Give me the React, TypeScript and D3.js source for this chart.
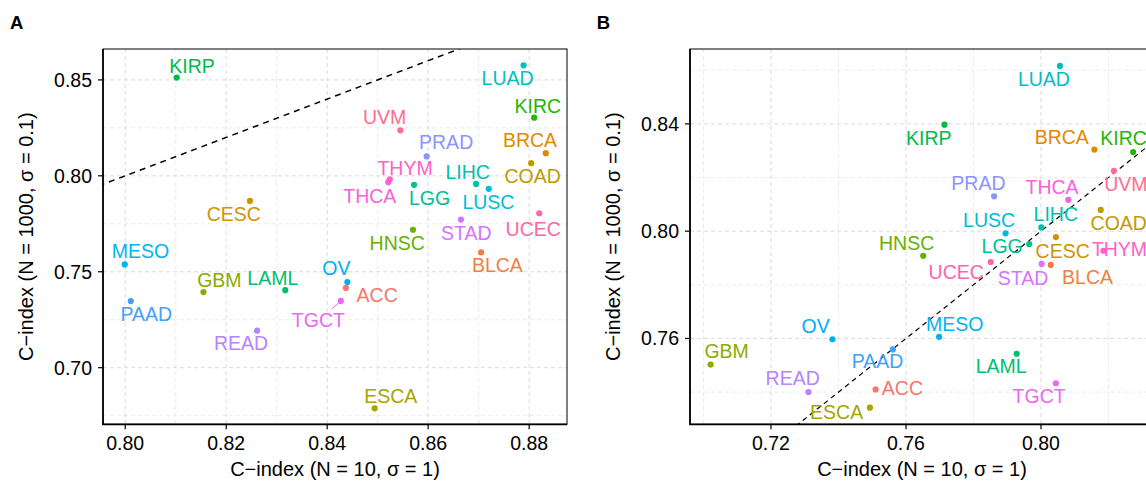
import React from 'react';
import * as d3 from 'd3';

// ---------- data ----------
const cancerTypes = ["ACC","BLCA","BRCA","CESC","COAD","ESCA","GBM","HNSC","KIRC","KIRP","LAML","LGG","LIHC","LUAD","LUSC","MESO","OV","PAAD","PRAD","READ","STAD","TGCT","THCA","THYM","UCEC","UVM"];

// Panel A
const aX = [0.8437,0.8705,0.8833,0.8247,0.8804,0.8494,0.8155,0.8570,0.8810,0.8102,0.8317,0.8572,0.8695,0.8789,0.8720,0.7999,0.8440,0.8011,0.8597,0.8261,0.8665,0.8427,0.8521,0.8524,0.8820,0.8545];
const aY = [0.7416,0.7601,0.8118,0.7869,0.8066,0.6788,0.7394,0.7719,0.8303,0.8512,0.7404,0.7953,0.7958,0.8576,0.7932,0.7538,0.7446,0.7347,0.8101,0.7193,0.7772,0.7348,0.7967,0.7982,0.7805,0.8237];
// Panel B
const bX = [0.7510,0.8029,0.8158,0.8044,0.8177,0.7493,0.7021,0.7651,0.8273,0.7714,0.7928,0.7965,0.8001,0.8056,0.7895,0.7698,0.7382,0.7561,0.7861,0.7311,0.8002,0.8044,0.8081,0.8185,0.7851,0.8216];
const bY = [0.7410,0.7874,0.8304,0.7978,0.8079,0.7342,0.7503,0.7908,0.8295,0.8397,0.7543,0.7952,0.8014,0.8616,0.7992,0.7606,0.7597,0.7559,0.8130,0.7400,0.7878,0.7433,0.8117,0.7927,0.7885,0.8225];

const aXTicks = [0.80,0.82,0.84,0.86,0.88];
const aXMinor = [0.81,0.83,0.85,0.87];
const aYTicks = [0.70,0.75,0.80,0.85];
const aYMinor = [0.675,0.725,0.775,0.825];
const bXTicks = [0.72,0.76,0.80,0.84];
const bXMinor = [0.70,0.74,0.78,0.82];
const bYTicks = [0.76,0.80,0.84];
const bYMinor = [0.74,0.78,0.82,0.86];

const xTitle = "C\u2212index (N = 10, \u03c3 = 1)";
const yTitle = "C\u2212index (N = 1000, \u03c3 = 0.1)";

// ---------- label layout (pixel offsets from point: centre x, baseline y) ----------
const aLabelOff: [number, number][] = [
  [31.3,13.7],[16.2,19.6],[-15.8,-6],[-16.2,20.4],[1.5,20.3],[16.1,-5.6],[15.9,-5.6],[-15.8,20],[3.7,-5],[15.4,-5],
  [-12.5,-5.3],[15.5,20.4],[-8.5,-5.3],[-16,20],[-0.3,19.7],[15.7,-6.4],[-11,-7.3],[15.5,19.7],[19.5,-7],[-16,19.3],
  [5.4,20],[-22.4,25.7],[-18.5,20.6],[15.3,-4],[-6,22.3],[-15.7,-6]
];
const bLabelOff: [number, number][] = [
  [26.8,5.7],[36.8,18.7],[-32.6,-5.7],[6.8,21],[18,19.7],[-33.3,11],[16,-6.7],[-16.6,-5.6],[-9.5,-6.6],[-15.6,20.3],
  [-15.5,19.7],[-27,9],[14.5,-6],[-16,20],[-16.5,-6],[15.7,-5.6],[-16.8,-6.4],[-15.2,18.3],[-15.7,-6],[-15.8,-6.7],
  [-18.7,20.7],[-16.7,20],[-16.3,-5.7],[16,5],[-34.5,17],[12,19.7]
];
const aSegments: { [k: string]: [number, number] } = { TGCT: [-9, 8] };
const bSegments: { [k: string]: [number, number] } = {};

// ---------- colours: ggplot2 hue_pal (polar LUV) ----------
function hclLuv(h: number, c: number, l: number): string {
  const hr = (h * Math.PI) / 180;
  const u = c * Math.cos(hr), v = c * Math.sin(hr);
  const Xn = 95.047, Yn = 100, Zn = 108.883;
  const Y = l > 8 ? Yn * Math.pow((l + 16) / 116, 3) : (Yn * l) / 903.3;
  const den = Xn + 15 * Yn + 3 * Zn;
  const un = (4 * Xn) / den, vn = (9 * Yn) / den;
  const up = u / (13 * l) + un, vp = v / (13 * l) + vn;
  const X = (Y * 9 * up) / (4 * vp);
  const Z = (Y * (12 - 3 * up - 20 * vp)) / (4 * vp);
  const x = X / 100, y = Y / 100, z = Z / 100;
  const lin = [
    3.2404542 * x - 1.5371385 * y - 0.4985314 * z,
    -0.969266 * x + 1.8760108 * y + 0.041556 * z,
    0.0556434 * x - 0.2040259 * y + 1.0572252 * z,
  ];
  const g = (t: number) => (t <= 0.0031308 ? 12.92 * t : 1.055 * Math.pow(t, 1 / 2.4) - 0.055);
  const [r, gg, b] = lin.map((t) => Math.round(Math.max(0, Math.min(1, g(t))) * 255));
  return d3.rgb(r, gg, b).formatHex();
}
const palette = cancerTypes.map((_, i) => hclLuv(15 + (360 * i) / cancerTypes.length, 100, 65));

const FONT = "'Liberation Sans', Arial, Helvetica, sans-serif";

type PanelProps = {
  id: string;
  letter: string;
  letterX: number;
  left: number; right: number; top: number; bottom: number;
  xDomain: [number, number]; yDomain: [number, number];
  xs: number[]; ys: number[];
  xTicks: number[]; yTicks: number[]; xMinor: number[]; yMinor: number[];
  offsets: [number, number][];
  segments: { [k: string]: [number, number] };
  ablineWidth: number;
  ablineDash: string;
};

function Panel(p: PanelProps) {
  const x = d3.scaleLinear().domain(p.xDomain).range([p.left, p.right]);
  const y = d3.scaleLinear().domain(p.yDomain).range([p.bottom, p.top]);
  const clipId = `clip-${p.id}`;
  const fmt = d3.format('.2f');
  // identity line y = x across the panel
  const lo = Math.min(p.xDomain[0], p.yDomain[0]);
  const hi = Math.max(p.xDomain[1], p.yDomain[1]);
  const line = d3.line<number>().x((d) => x(d)).y((d) => y(d));
  const cy = (p.top + p.bottom) / 2;
  const cx = (p.left + p.right) / 2;
  return (
    <g>
      <defs>
        <clipPath id={clipId}>
          <rect x={p.left} y={p.top} width={p.right - p.left} height={p.bottom - p.top} />
        </clipPath>
      </defs>
      <text x={p.letterX} y={29.3} fontFamily={FONT} fontWeight="bold" fontSize={18.5} fill="#000">{p.letter}</text>
      <g clipPath={`url(#${clipId})`}>
        <rect x={p.left} y={p.top} width={p.right - p.left} height={p.bottom - p.top} fill="#fff" />
        {p.xMinor.map((t) => (
          <line key={'xm' + t} x1={x(t)} x2={x(t)} y1={p.top} y2={p.bottom} stroke="#e6e6e6" strokeWidth={0.8} strokeDasharray="4,3" />
        ))}
        {p.yMinor.map((t) => (
          <line key={'ym' + t} x1={p.left} x2={p.right} y1={y(t)} y2={y(t)} stroke="#e6e6e6" strokeWidth={0.8} strokeDasharray="4,3" />
        ))}
        {p.xTicks.map((t) => (
          <line key={'xg' + t} x1={x(t)} x2={x(t)} y1={p.top} y2={p.bottom} stroke="#d6d6d6" strokeWidth={0.9} strokeDasharray="4,3" />
        ))}
        {p.yTicks.map((t) => (
          <line key={'yg' + t} x1={p.left} x2={p.right} y1={y(t)} y2={y(t)} stroke="#d6d6d6" strokeWidth={0.9} strokeDasharray="4,3" />
        ))}
        <path d={line([lo, hi]) || ''} stroke="#000" strokeWidth={p.ablineWidth} strokeDasharray={p.ablineDash} fill="none" />
        {cancerTypes.map((name, i) => {
          const seg = p.segments[name];
          if (!seg) return null;
          const px = x(p.xs[i]), py = y(p.ys[i]);
          return <line key={'s' + name} x1={px} y1={py} x2={px + seg[0]} y2={py + seg[1]} stroke={palette[i]} strokeWidth={1} />;
        })}
        {cancerTypes.map((name, i) => (
          <circle key={'p' + name} cx={x(p.xs[i])} cy={y(p.ys[i])} r={3.1} fill={palette[i]} />
        ))}
      </g>
      {cancerTypes.map((name, i) => (
        <text key={'l' + name} x={x(p.xs[i]) + p.offsets[i][0]} y={y(p.ys[i]) + p.offsets[i][1]}
          textAnchor="middle" fontFamily={FONT} fontSize={19.5} fill={palette[i]}>{name}</text>
      ))}
      {/* panel border */}
      <rect x={p.left} y={p.top} width={p.right - p.left} height={p.bottom - p.top} fill="none" stroke="#000" strokeWidth={1} />
      {/* axis lines */}
      <line x1={p.left} x2={p.left} y1={p.top} y2={p.bottom + 0.8} stroke="#000" strokeWidth={1.7} />
      <line x1={p.left - 0.8} x2={p.right} y1={p.bottom} y2={p.bottom} stroke="#000" strokeWidth={1.7} />
      {/* x ticks */}
      {p.xTicks.map((t) => (
        <g key={'xt' + t}>
          <line x1={x(t)} x2={x(t)} y1={p.bottom} y2={p.bottom + 5} stroke="#000" strokeWidth={1.2} />
          <text x={x(t)} y={450} textAnchor="middle" fontFamily={FONT} fontSize={19.5} fill="#000">{fmt(t)}</text>
        </g>
      ))}
      {p.yTicks.map((t) => (
        <g key={'yt' + t}>
          <line x1={p.left - 5} x2={p.left} y1={y(t)} y2={y(t)} stroke="#000" strokeWidth={1.2} />
          <text x={p.left - 11} y={y(t) + 7} textAnchor="end" fontFamily={FONT} fontSize={19.5} fill="#000">{fmt(t)}</text>
        </g>
      ))}
      <text x={cx} y={476} textAnchor="middle" fontFamily={FONT} fontSize={20} fill="#000">{xTitle}</text>
      <text transform={`translate(${p.left - 70},${cy}) rotate(-90)`} textAnchor="middle" fontFamily={FONT} fontSize={20} fill="#000">{yTitle}</text>
    </g>
  );
}

export default function App() {
  return (
    <svg width={1146} height={483} style={{ position: 'absolute', left: 0, top: 0, background: '#fff' }}>
      <rect x={0} y={0} width={1146} height={483} fill="#fff" />
      <Panel id="A" letter="A" letterX={10}
        left={103} right={567} top={49} bottom={424.3}
        xDomain={[0.7956, 0.8875]} yDomain={[0.6705, 0.8661]}
        xs={aX} ys={aY}
        xTicks={aXTicks} yTicks={aYTicks} xMinor={aXMinor} yMinor={aYMinor}
        offsets={aLabelOff} segments={aSegments}
        ablineWidth={1.5} ablineDash="6,5" />
      <Panel id="B" letter="B" letterX={596.7}
        left={690} right={1154} top={49} bottom={424.3}
        xDomain={[0.696, 0.83348]} yDomain={[0.728, 0.86791]}
        xs={bX} ys={bY}
        xTicks={bXTicks} yTicks={bYTicks} xMinor={bXMinor} yMinor={bYMinor}
        offsets={bLabelOff} segments={bSegments}
        ablineWidth={1.2} ablineDash="5,4" />
    </svg>
  );
}
